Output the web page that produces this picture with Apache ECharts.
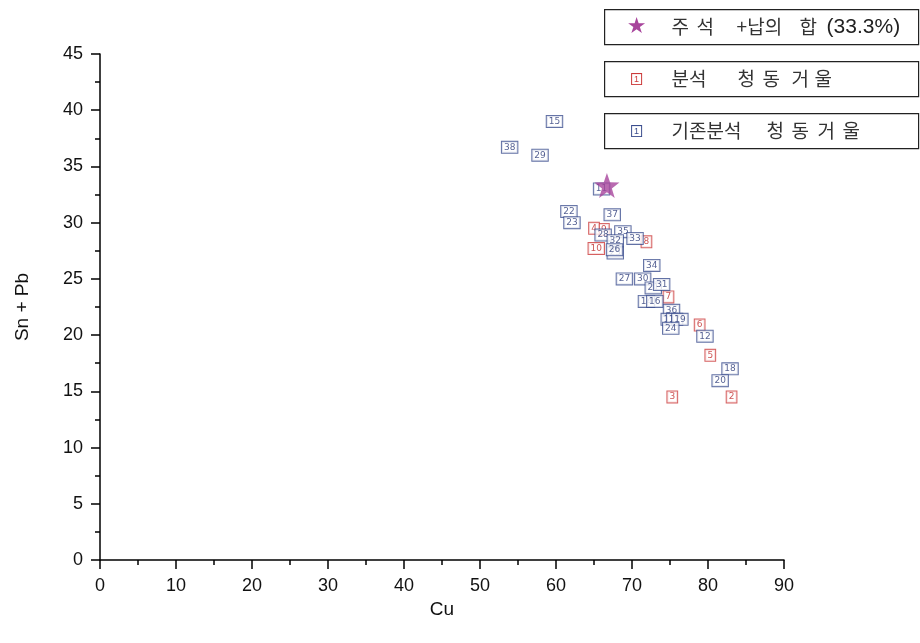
<!DOCTYPE html>
<html>
<head>
<meta charset="utf-8">
<script src="https://cdn.jsdelivr.net/npm/echarts@6/dist/echarts.min.js"></script>
<style>
  html, body {margin: 0; padding: 0; background: #fff;}
  #chart {width: 920px; height: 643px;}
</style>
</head>
<body>
<div id="chart"></div>
<script>
// 분석 청동거울 (red)
const redLabels = ['9', '7', '4', '10', '8', '6', '5', '3', '2']
const redCu = [66.3, 74.8, 65.0, 65.3, 71.9, 78.9, 80.3, 75.3, 83.1]
const redSnPb = [29.4, 23.4, 29.5, 27.7, 28.3, 20.9, 18.2, 14.5, 14.5]

// 기존분석 청동거울 (blue)
const blueLabels = ['11', '15', '38', '29', '22', '23', '37', '28', '35', '32', '33', '25', '26',
  '34', '27', '30', '21', '31', '14', '16', '36', '13', '17', '19', '24', '12', '18', '20']
const blueCu = [66.0, 59.8, 53.9, 57.9, 61.7, 62.1, 67.4, 66.2, 68.8, 67.8, 70.4, 67.8, 67.7,
  72.6, 69.0, 71.4, 72.8, 73.9, 71.9, 73.0, 75.2, 74.9, 75.6, 76.3, 75.1, 79.6, 82.9, 81.6]
const blueSnPb = [33.0, 39.0, 36.7, 36.0, 31.0, 30.0, 30.7, 28.9, 29.2, 28.4, 28.6, 27.3, 27.6,
  26.2, 25.0, 25.0, 24.2, 24.5, 23.0, 23.0, 22.2, 21.4, 21.4, 21.4, 20.6, 19.9, 17.0, 15.95]

// 주석+납의 합 (33.3%)
const starCu = [66.7]
const starSnPb = [33.3]

const xTicks = {min: 0, max: 90, interval: 10}
const yTicks = {min: 0, max: 45, interval: 5}

const starPath = 'path://M50,0 L62,34 L98,35 L69,57 L80,92 L50,71 L20,92 L31,57 L2,35 L38,34 Z'
const blue = '#3b4d8e'
const red = '#cc3a3a'
const magenta = '#a8459c'
const font = 'Liberation Sans, Arial'

const pts = (xs, ys, labels) => xs.map((x, i) => [x, ys[i], labels ? labels[i] : ''])

const boxSeries = (name, data, color, textColor) => ({
  name,
  type: 'scatter',
  data,
  symbol: 'rect',
  symbolSize: 1,
  itemStyle: {color: 'rgba(0,0,0,0)'},
  label: {
    show: true,
    position: 'inside',
    formatter: p => p.value[2],
    fontFamily: 'DejaVu Sans',
    fontSize: 9,
    lineHeight: 10,
    color: textColor,
    backgroundColor: '#fff',
    borderColor: color,
    borderWidth: 1,
    padding: [1, 2, 0, 2],
  },
  emphasis: {disabled: true},
})

const axisCommon = {
  axisLine: {show: true, onZero: false, lineStyle: {color: '#000', width: 1.5}},
  axisTick: {show: true, inside: false, length: 9, lineStyle: {color: '#000', width: 1.5}},
  minorTick: {show: true, splitNumber: 2, length: 5, lineStyle: {color: '#000', width: 1.5}},
  splitLine: {show: false},
  axisLabel: {color: '#111', fontSize: 18, fontFamily: font, margin: 17},
  nameTextStyle: {color: '#111', fontSize: 19, fontFamily: font},
  nameLocation: 'middle',
}

const legendText = {fontSize: 19, fontFamily: 'Noto Sans CJK KR', fill: '#333'}

// pieces: [text, x offset from box left]
const legendBox = (top, iconStyle, icon, pieces) => ({
  type: 'group',
  left: 604,
  top,
  children: [
    {type: 'rect', shape: {x: 0, y: 0, width: 314, height: 35},
      style: {fill: '#fff', stroke: '#222', lineWidth: 1.2}},
    {type: 'text', x: 32, y: 17.5, style: Object.assign({text: icon, align: 'center', verticalAlign: 'middle'}, iconStyle)},
  ].concat(pieces.map(([t, x]) => ({
    type: 'text', x, y: 17.5,
    style: Object.assign({text: t, verticalAlign: 'middle'}, legendText,
      t.startsWith('(') ? {fontFamily: font, fontSize: 21, fill: '#222'} : {}),
  }))),
})

const smallIcon = color => ({
  fontSize: 9, fontFamily: font, fill: color,
  backgroundColor: '#fff', borderColor: color, borderWidth: 1, padding: [1, 2, 0, 2],
})

const chart = echarts.init(document.getElementById('chart'))
chart.setOption({
  animation: false,
  backgroundColor: '#fff',
  grid: {left: 100, right: 136, top: 54, bottom: 83},
  xAxis: Object.assign({type: 'value', name: 'Cu', nameGap: 40}, xTicks, axisCommon),
  yAxis: Object.assign({type: 'value', name: 'Sn + Pb', nameGap: 68}, yTicks, axisCommon),
  series: [
    boxSeries('분석 청동거울', pts(redCu, redSnPb, redLabels), red, '#c02a2a'),
    boxSeries('기존분석 청동거울', pts(blueCu, blueSnPb, blueLabels), blue, '#2a3a78'),
    {
      name: '주석+납의 합 (33.3%)',
      type: 'scatter',
      data: pts(starCu, starSnPb),
      symbol: starPath,
      symbolSize: 25,
      itemStyle: {color: magenta},
      z: 5,
    },
  ],
  graphic: [
    legendBox(9, {fontSize: 22, fill: magenta, fontFamily: 'DejaVu Sans'}, '★',
      [['주', 67], ['석', 92], ['+납의', 132], ['합', 195], ['(33.3%)', 222]]),
    legendBox(61, smallIcon(red), '1',
      [['분석', 67], ['청', 133], ['동', 158], ['거', 187], ['울', 210]]),
    legendBox(113, smallIcon(blue), '1',
      [['기존분석', 67], ['청', 162], ['동', 187], ['거', 213], ['울', 238]]),
  ],
})
</script>
</body>
</html>
